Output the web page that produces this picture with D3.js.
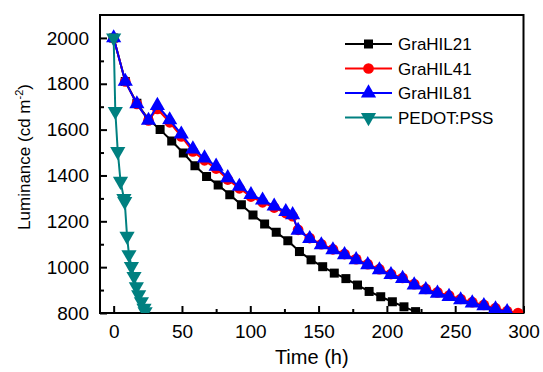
<!DOCTYPE html>
<html>
<head>
<meta charset="utf-8">
<script src="https://cdn.jsdelivr.net/npm/d3@7"></script>
<style>
  body { margin: 0; background: #fff; }
  svg text { font-family: "Liberation Sans", Arial, sans-serif; fill: #000; }
</style>
</head>
<body>
<svg id="chart" width="543" height="372"></svg>
<script>
// ---- data ----
var seriesNames = ['GraHIL21', 'GraHIL41', 'GraHIL81', 'PEDOT:PSS']
var seriesColors = ['#000000', '#ff0000', '#0000ff', '#008080']

var timeG21 = [0, 8.5, 17, 25.5, 34, 42.5, 51, 59.5, 68, 76.5, 85, 93.5, 102, 110.5, 119, 127.5,
  136, 144.5, 153, 161.5, 170, 178.5, 187, 195.5, 204, 212.5, 221]
var lumG21 = [2000, 1810, 1715, 1645, 1600, 1550, 1498, 1442, 1396, 1358, 1316, 1272, 1228, 1188, 1152, 1115,
  1068, 1032, 1002, 974, 950, 922, 894, 871, 849, 827, 806]

var timeG41 = [0, 8.5, 17, 25.5, 32, 41, 49.5, 58, 66.5, 75, 83.5, 92, 100.5, 109, 117.5, 126, 131,
  135, 143.5, 152, 160.5, 169, 177.5, 186, 194.5, 203, 211.5, 220, 228.5, 237, 245.5, 254, 262.5, 271, 279.5, 288, 296]
var lumG41 = [2000, 1810, 1712, 1640, 1690, 1632, 1570, 1505, 1466, 1430, 1382, 1344, 1308, 1283, 1260, 1236, 1222,
  1163, 1127, 1100, 1078, 1057, 1035, 1013, 991, 970, 953, 926, 905, 890, 876, 861, 847, 835, 821, 808, 800]

var timeG81 = [0, 8.5, 17, 25.5, 32, 41, 49.5, 58, 66.5, 75, 83.5, 92, 100.5, 109, 117.5, 126, 131,
  135, 143.5, 152, 160.5, 169, 177.5, 186, 194.5, 203, 211.5, 220, 228.5, 237, 245.5, 254, 262.5, 271, 279.5, 288]
var lumG81 = [2000, 1810, 1712, 1640, 1705, 1642, 1580, 1515, 1476, 1440, 1390, 1352, 1316, 1292, 1266, 1242, 1228,
  1160, 1124, 1097, 1075, 1054, 1032, 1010, 988, 967, 950, 922, 901, 886, 872, 857, 843, 831, 817, 805]

var timePEDOT = [0, 1.2, 3, 5, 7.5, 8.1, 9.8, 11.2, 13, 14.9, 16.6, 18.3, 20.3, 22.2, 23]
var lumPEDOT = [2000, 1680, 1505, 1375, 1300, 1287, 1135, 1055, 1003, 960, 915, 880, 850, 821, 806]

var xTicks = [0, 50, 100, 150, 200, 250, 300]
var yTicks = [800, 1000, 1200, 1400, 1600, 1800, 2000]

var allSeries = [
  {name: seriesNames[0], t: timeG21, v: lumG21, shape: d3.symbolSquare, size: 81},
  {name: seriesNames[1], t: timeG41, v: lumG41, shape: d3.symbolCircle, size: 90},
  {name: seriesNames[2], t: timeG81, v: lumG81, shape: d3.symbolTriangle, size: 100},
  {name: seriesNames[3], t: timePEDOT, v: lumPEDOT, shape: d3.symbolTriangle, size: 100, flip: true}
]

// ---- layout ----
var plotLeft = 100, plotRight = 523.5, plotTop = 15, plotBottom = 313

var svg = d3.select('svg#chart')

var xScale = d3.scaleLinear().domain([-10, 300]).range([plotLeft, plotRight])
var yScale = d3.scaleLinear().domain([800, 2100]).range([plotBottom, plotTop])

svg.append('clipPath').attr('id', 'plot-clip')
  .append('rect')
  .attr('x', plotLeft).attr('y', plotTop - 6)
  .attr('width', plotRight - plotLeft).attr('height', plotBottom - plotTop + 6)

// axes, ticks pointing inward
var xAxis = d3.axisBottom(xScale).tickValues(xTicks).tickFormat(d3.format('d'))
  .tickSizeInner(-7).tickSizeOuter(0).tickPadding(12)
var yAxis = d3.axisLeft(yScale).tickValues(yTicks).tickFormat(d3.format('d'))
  .tickSizeInner(-7).tickSizeOuter(0).tickPadding(11)

var xMinor = d3.axisBottom(xScale).tickValues([25, 75, 125, 175, 225, 275]).tickSizeInner(-4).tickSizeOuter(0).tickFormat('')
var yMinor = d3.axisLeft(yScale).tickValues([900, 1100, 1300, 1500, 1700, 1900]).tickSizeInner(-4).tickSizeOuter(0).tickFormat('')

function styleAxis(g) {
  g.select('.domain').remove()
  g.selectAll('line').attr('stroke', '#000').attr('stroke-width', 2)
  g.selectAll('text').style('font-size', '19px').attr('font-family', null)
}

svg.append('g').attr('transform', 'translate(0,' + plotBottom + ')').call(xAxis).call(styleAxis)
svg.append('g').attr('transform', 'translate(' + plotLeft + ',0)').call(yAxis).call(styleAxis)
svg.append('g').attr('transform', 'translate(0,' + plotBottom + ')').call(xMinor).call(styleAxis)
svg.append('g').attr('transform', 'translate(' + plotLeft + ',0)').call(yMinor).call(styleAxis)

// frame
svg.append('rect')
  .attr('x', plotLeft).attr('y', plotTop)
  .attr('width', plotRight - plotLeft).attr('height', plotBottom - plotTop)
  .attr('fill', 'none').attr('stroke', '#000').attr('stroke-width', 2)

// series
var plot = svg.append('g').attr('clip-path', 'url(#plot-clip)')

var line = d3.line()
  .x(function(d) { return xScale(d[0]) })
  .y(function(d) { return yScale(d[1]) })

allSeries.forEach(function(s, i) {
  var pts = s.t.map(function(t, j) { return [t, s.v[j]] })
  var g = plot.append('g').attr('class', 'series')
  g.append('path')
    .datum(pts)
    .attr('d', line)
    .attr('fill', 'none')
    .attr('stroke', seriesColors[i])
    .attr('stroke-width', 2)
  g.selectAll('path.marker')
    .data(pts)
    .enter()
    .append('path')
    .attr('class', 'marker')
    .attr('d', d3.symbol().type(s.shape).size(s.size))
    .attr('transform', function(d) {
      return 'translate(' + xScale(d[0]) + ',' + yScale(d[1]) + ')' + (s.flip ? ' rotate(180)' : '')
    })
    .attr('fill', seriesColors[i])
})

// legend
var legend = svg.append('g')
allSeries.forEach(function(s, i) {
  var ly = 44 + i * 24.5
  legend.append('line')
    .attr('x1', 345).attr('x2', 392).attr('y1', ly).attr('y2', ly)
    .attr('stroke', seriesColors[i]).attr('stroke-width', 2)
  legend.append('path')
    .attr('d', d3.symbol().type(s.shape).size(s.size))
    .attr('transform', 'translate(368.5,' + ly + ')' + (s.flip ? ' rotate(180)' : ''))
    .attr('fill', seriesColors[i])
  legend.append('text')
    .attr('x', 398).attr('y', ly + 6)
    .style('font-size', '17px')
    .text(s.name)
})

// axis titles
svg.append('text')
  .attr('x', (plotLeft + plotRight) / 2 + 0)
  .attr('y', 364)
  .attr('text-anchor', 'middle')
  .style('font-size', '20px')
  .text('Time (h)')

var yTitle = svg.append('text')
  .attr('transform', 'translate(30,157) rotate(-90)')
  .attr('text-anchor', 'middle')
  .style('font-size', '17px')
yTitle.append('tspan').text('Luminance (cd m')
yTitle.append('tspan').attr('dy', -7).style('font-size', '11px').text('-2')
yTitle.append('tspan').attr('dy', 7).text(')')
</script>
</body>
</html>
